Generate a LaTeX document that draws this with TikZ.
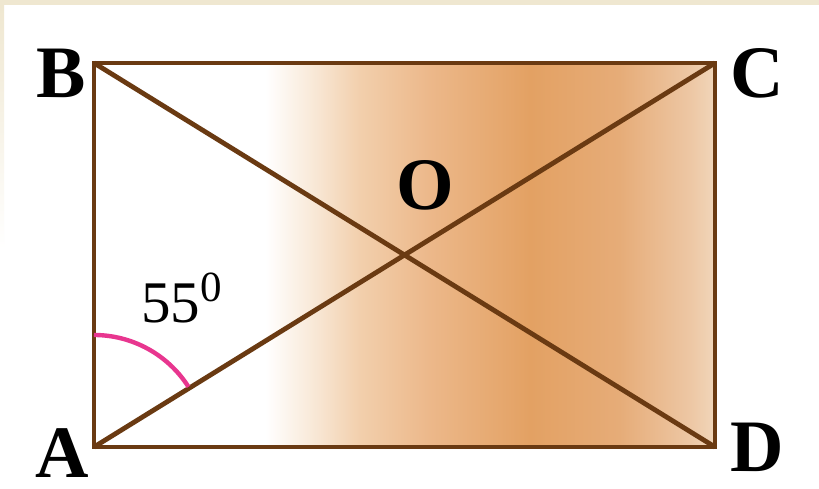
\documentclass[tikz,border=0pt]{standalone}
\usepackage{fontspec}
\setmainfont{Liberation Serif}
\usetikzlibrary{calc}
\definecolor{edge}{RGB}{106,58,18}
\definecolor{arcpink}{RGB}{232,54,143}
\definecolor{beige}{RGB}{239,231,208}
\definecolor{s1}{RGB}{249,234,218}
\definecolor{s2}{RGB}{242,207,172}
\definecolor{s3}{RGB}{236,184,138}
\definecolor{s4}{RGB}{227,161,99}
\definecolor{s5}{RGB}{230,172,120}
\definecolor{s6}{RGB}{237,199,164}
\definecolor{s7}{RGB}{241,214,186}
\pgfdeclarehorizontalshading{rectshade}{100bp}{color(0bp)=(white); color(25bp)=(white); color(38.8bp)=(white); color(42.4bp)=(s1); color(46.4bp)=(s2); color(52bp)=(s3); color(60.1bp)=(s4); color(67.3bp)=(s5); color(73bp)=(s6); color(75bp)=(s7); color(100bp)=(s7)}
\tikzset{
  side/.style={draw=edge, line width=4.8pt, line join=miter},
  vlabel/.style={inner sep=0pt, font=\fontsize{74}{74}\selectfont\bfseries},
  anglemark/.style={draw=arcpink, line width=4.4pt},
}
\begin{document}
\begin{tikzpicture}[x=1pt,y=1pt]
\useasboundingbox (0,0) rectangle (819,489);
\fill[white] (0,0) rectangle (819,489);
\fill[beige] (0,484) rectangle (819,489);
\shade[top color=beige, bottom color=white] (0,240) rectangle (4,484);
\coordinate (A) at (94,42);
\coordinate (B) at (94,426);
\coordinate (C) at (715,426);
\coordinate (D) at (715,42);
\shade[shading=rectshade] (A) rectangle (C);
\draw[side] (A) -- (B) -- (C) -- (D) -- cycle;
\draw[side] (A) -- (C);
\draw[side] (B) -- (D);
\draw[anglemark] ($(A)+(90:112)$) arc (90:32.5:112);
\node[vlabel] (lA) at (62,36) {A};
\node[vlabel] (lB) at (61,416) {B};
\node[vlabel] (lC) at (757,416) {C};
\node[vlabel] (lD) at (757,42) {D};
\node[vlabel] (lO) at (425,304) {O};
\node[inner sep=0pt, anchor=base west, font=\fontsize{59}{59}\selectfont] (ang) at (141,166) {55\raisebox{21pt}{\fontsize{43}{43}\selectfont 0}};
\end{tikzpicture}
\end{document}
